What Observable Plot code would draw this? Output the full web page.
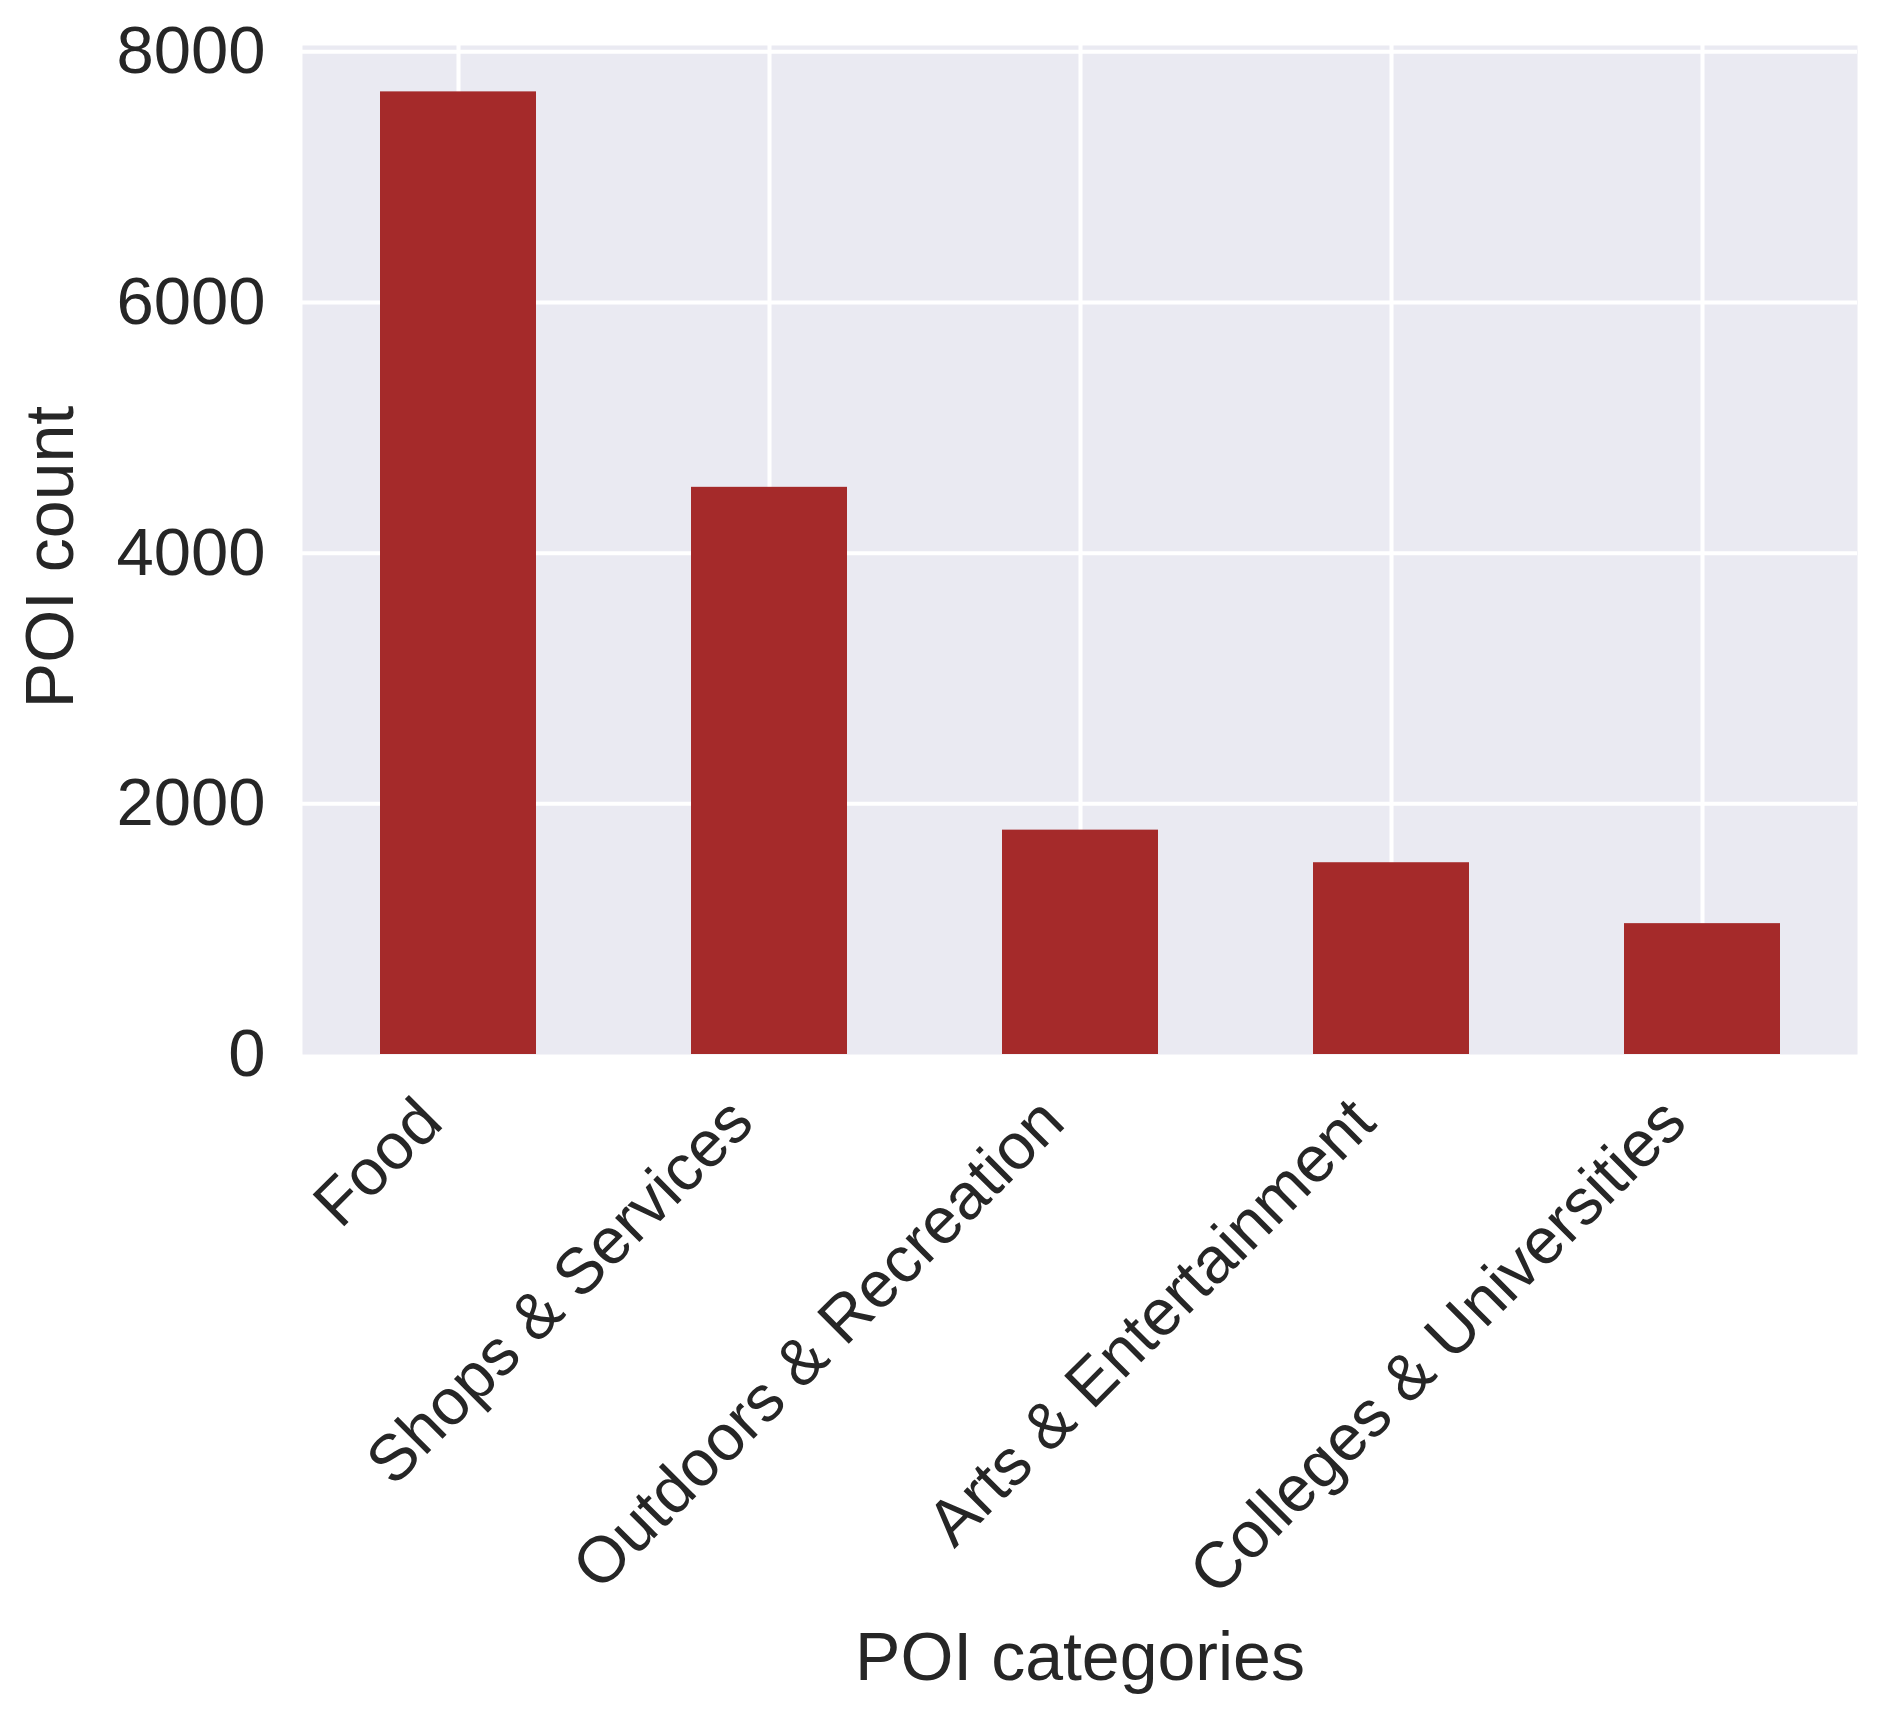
<!DOCTYPE html>
<html>
<head>
<meta charset="utf-8">
<script src="https://cdn.jsdelivr.net/npm/d3@7"></script>
<script src="https://cdn.jsdelivr.net/npm/@observablehq/plot@0.6"></script>
<style>
  body { margin: 0; background: #fff; }
  #chart svg { display: block; }
</style>
</head>
<body>
<div id="chart"></div>
<script>
// POI counts per category
const categories = ["Food", "Shops & Services", "Outdoors & Recreation", "Arts & Entertainment", "Colleges & Universities"];
const counts = [7680, 4525, 1790, 1530, 1044];
const yTicks = [0, 2000, 4000, 6000, 8000];
const yLabel = "POI count";
const xLabel = "POI categories";

const data = categories.map((c, i) => ({category: c, count: counts[i]}));

const chart = Plot.plot({
  width: 1893,
  height: 1734,
  marginLeft: 302,
  marginRight: 36,
  marginTop: 45,
  marginBottom: 680,
  style: {fontFamily: "'Liberation Sans', Arial, sans-serif", color: "#262626", background: "white"},
  x: {domain: categories, paddingInner: 0.5, paddingOuter: 0.25, axis: null},
  y: {domain: [0, 8050], axis: null},
  marks: [
    Plot.frame({fill: "#EAEAF2", stroke: null}),
    Plot.gridY(yTicks.filter(d => d > 0), {stroke: "white", strokeOpacity: 1, strokeWidth: 4}),
    Plot.gridX(categories, {stroke: "white", strokeOpacity: 1, strokeWidth: 4}),
    Plot.barY(data, {x: "category", y: "count", fill: "#A52A2A"}),
    Plot.axisY(yTicks, {tickSize: 0, tickPadding: 37, fontSize: 67, label: null, tickFormat: d => String(d)}),
    // rotated category labels under the bars
    Plot.text(categories, {x: d => d, frameAnchor: "bottom", rotate: -45, textAnchor: "end", lineAnchor: "middle", dx: -28, dy: 56, fontSize: 65}),
    Plot.text([yLabel], {frameAnchor: "left", rotate: -90, textAnchor: "middle", lineAnchor: "middle", dx: -251, dy: 7, fontSize: 68}),
    Plot.text([xLabel], {frameAnchor: "bottom", textAnchor: "middle", lineAnchor: "middle", dy: 604, fontSize: 68})
  ]
});

d3.select("#chart").append(() => chart);
</script>
</body>
</html>
